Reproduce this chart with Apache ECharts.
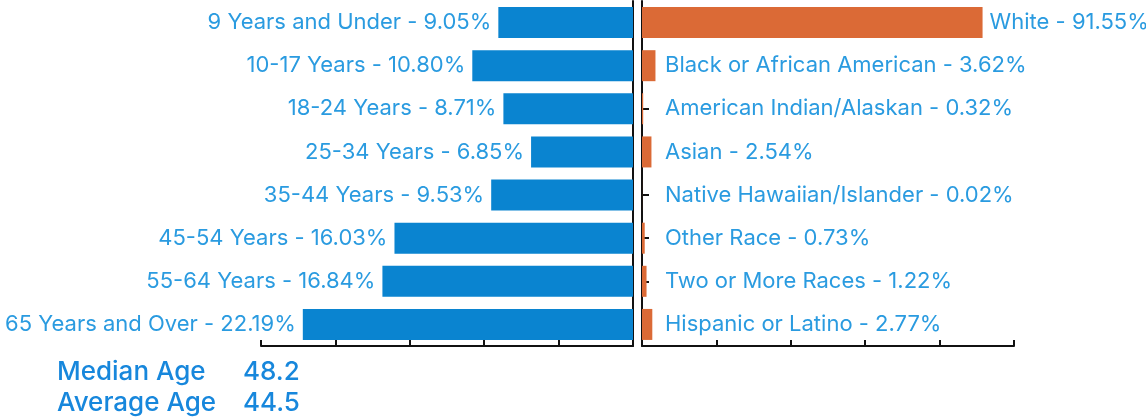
<html lang="en">
  <head>
    <meta charset="UTF-8" />
    <title>Age and Race</title>
    <style>
      body { margin: 0; background: #fff; }
    </style>
  </head>
  <body>
    <div id="main" style="width: 1146px; height: 419px"></div>

    <script src="https://cdnjs.cloudflare.com/ajax/libs/echarts/6.0.0/echarts.min.js"></script>
    <script>
      // age groups (left chart)
      const ageGroups = ['9 Years and Under', '10-17 Years', '18-24 Years', '25-34 Years',
        '35-44 Years', '45-54 Years', '55-64 Years', '65 Years and Over']
      const agePct = [9.05, 10.80, 8.71, 6.85, 9.53, 16.03, 16.84, 22.19]

      // race (right chart)
      const races = ['White', 'Black or African American', 'American Indian/Alaskan', 'Asian',
        'Native Hawaiian/Islander', 'Other Race', 'Two or More Races', 'Hispanic or Latino']
      const racePct = [91.55, 3.62, 0.32, 2.54, 0.02, 0.73, 1.22, 2.77]

      const ageStats = [['Median Age', '48.2'], ['Average Age', '44.5']]

      const font = 'Inter'
      const labelColor = '#2a9be0'
      const blue = '#0a84d0'
      const orange = '#db6a36'

      const fmt = v => v.toFixed(2) + '%'

      let option = {
        animation: false,
        grid: [
          { left: 261, width: 372, top: 1, height: 345 },
          { left: 642, width: 372, top: 1, height: 345 }
        ],
        xAxis: [
          {
            gridIndex: 0, type: 'value', min: 0, max: 25, interval: 5, inverse: true,
            axisLine: { show: true, lineStyle: { color: '#111', width: 2 } },
            axisTick: { show: true, inside: true, length: 6, lineStyle: { color: '#111', width: 2 } },
            axisLabel: { show: false },
            splitLine: { show: false }
          },
          {
            gridIndex: 1, type: 'value', min: 0, max: 100, interval: 20,
            axisLine: { show: true, lineStyle: { color: '#111', width: 2 } },
            axisTick: { show: true, inside: true, length: 6, lineStyle: { color: '#111', width: 2 } },
            axisLabel: { show: false },
            splitLine: { show: false }
          }
        ],
        yAxis: [
          {
            gridIndex: 0, type: 'category', data: ageGroups, inverse: true, position: 'right',
            axisLine: { show: true, lineStyle: { color: '#111', width: 2 } },
            axisTick: { show: false },
            axisLabel: { show: false }
          },
          {
            gridIndex: 1, type: 'category', data: races, inverse: true,
            axisLine: { show: true, lineStyle: { color: '#111', width: 2 } },
            axisTick: { show: true, inside: true, alignWithLabel: true, length: 7, lineStyle: { color: '#111', width: 2 } },
            axisLabel: { show: false }
          }
        ],
        series: [
          {
            type: 'bar', xAxisIndex: 0, yAxisIndex: 0, barWidth: 31,
            itemStyle: { color: blue },
            label: {
              show: true, position: 'left', distance: 7,
              fontFamily: font, fontSize: 22, color: labelColor,
              formatter: p => ageGroups[p.dataIndex] + ' - ' + fmt(p.value)
            },
            data: agePct
          },
          {
            type: 'bar', xAxisIndex: 1, yAxisIndex: 1, barWidth: 31,
            itemStyle: { color: orange },
            label: {
              show: true, fontFamily: font, fontSize: 22, color: labelColor,
              formatter: p => races[p.dataIndex] + ' - ' + fmt(p.value)
            },
            // long bars get their label at the bar end, short ones at a fixed spot
            data: racePct.map(v => ({
              value: v,
              label: v > 6
                ? { position: 'right', distance: 7 }
                : { position: [23, '50%'], verticalAlign: 'middle' }
            }))
          }
        ],
        graphic: ageStats.flatMap((row, i) => [
          {
            type: 'text', left: 57, top: 359 + i * 31,
            style: { text: row[0], font: '500 26px ' + font, fill: '#1787dc' }
          },
          {
            type: 'text', left: 243, top: 359 + i * 31,
            style: { text: row[1], font: '500 26px ' + font, fill: '#1787dc' }
          }
        ])
      }
      echarts.init(document.querySelector('#main')).setOption(option)
    </script>
  </body>
</html>
